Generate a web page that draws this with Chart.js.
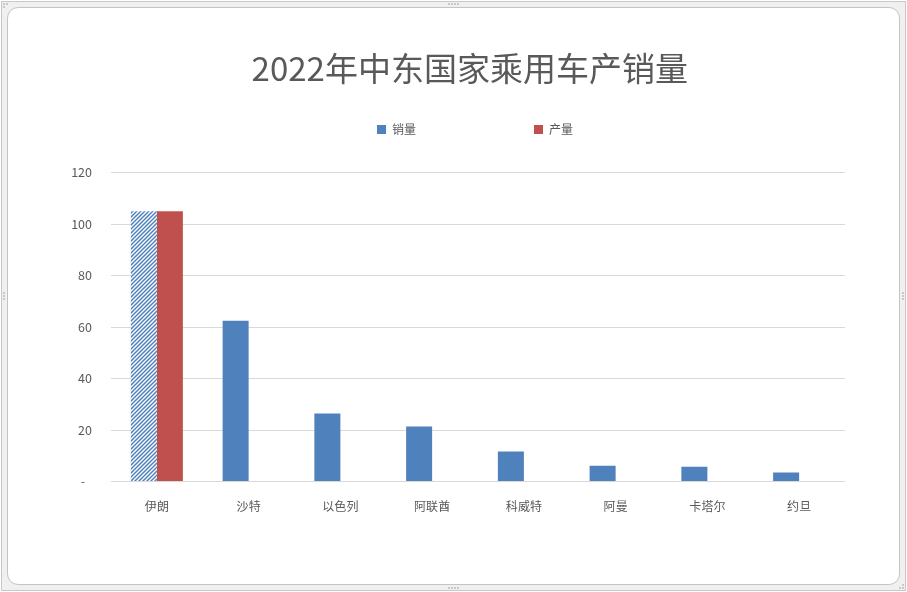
<!DOCTYPE html>
<html>
<head>
<meta charset="utf-8">
<script src="https://cdn.jsdelivr.net/npm/chart.js@4.4.0/dist/chart.umd.min.js"></script>
<style>
  html, body { margin: 0; padding: 0; background: #ffffff; }
  body { width: 907px; height: 592px; position: relative; overflow: hidden; }
  #outer { position: absolute; left: 1px; top: 1px; width: 903px; height: 588px; border: 1px solid #c8c8c8; background: #f0f0f0; }
  #inner { position: absolute; left: 7px; top: 7px; width: 891px; height: 576px; border: 1px solid #c4c4c4; border-radius: 11px; background: #ffffff; }
  .h { position: absolute; width: 2px; height: 2px; background: #c8c8c8; }
  #chartWrap { position: absolute; left: 0; top: 0; width: 907px; height: 592px; }
</style>
</head>
<body>
<div id="outer"></div>
<div id="inner"></div>
<div class="h" style="left:448px;top:3px"></div><div class="h" style="left:451px;top:3px"></div><div class="h" style="left:454px;top:3px"></div><div class="h" style="left:457px;top:3px"></div>
<div class="h" style="left:448px;top:587px"></div><div class="h" style="left:451px;top:587px"></div><div class="h" style="left:454px;top:587px"></div><div class="h" style="left:457px;top:587px"></div>
<div class="h" style="left:3px;top:292px"></div><div class="h" style="left:3px;top:295px"></div><div class="h" style="left:3px;top:298px"></div>
<div class="h" style="left:902px;top:292px"></div><div class="h" style="left:902px;top:295px"></div><div class="h" style="left:902px;top:298px"></div>
<div class="h" style="left:3px;top:3px"></div><div class="h" style="left:6px;top:3px"></div><div class="h" style="left:3px;top:6px"></div>
<div class="h" style="left:902px;top:587px"></div><div class="h" style="left:899px;top:587px"></div><div class="h" style="left:902px;top:584px"></div>
<div id="chartWrap"><canvas id="c" width="907" height="592"></canvas></div>
<script>
const categories = ['伊朗', '沙特', '以色列', '阿联酋', '科威特', '阿曼', '卡塔尔', '约旦'];
const salesValues = [105, 62.5, 26.4, 21.4, 11.7, 6.2, 5.8, 3.5];
const productionValues = [105, null, null, null, null, null, null, null];
const seriesNames = ['销量', '产量'];
const yTickValues = [0, 20, 40, 60, 80, 100, 120];
const yTickLabels = ['-\u2007', '20', '40', '60', '80', '100', '120'];
const titleText = '2022年中东国家乘用车产销量';

const BLUE = '#4f81bd';
const RED = '#c0504d';
const TEXT = '#595959';
const GRID = '#d9d9d9';

function makeHatch() {
  const t = document.createElement('canvas');
  t.width = 8; t.height = 8;
  const g = t.getContext('2d');
  g.fillStyle = '#ffffff';
  g.fillRect(0, 0, 8, 8);
  g.strokeStyle = BLUE;
  g.lineWidth = 1.5;
  for (let c = -8; c <= 24; c += 4) {
    g.beginPath();
    g.moveTo(c + 2, -2);
    g.lineTo(c - 10, 10);
    g.stroke();
  }
  return document.getElementById('c').getContext('2d').createPattern(t, 'repeat');
}
const hatch = makeHatch();

const legendSpacer = {
  id: 'legendSpacer',
  beforeInit(chart) {
    const origFit = chart.legend.fit;
    chart.legend.fit = function () {
      origFit.bind(chart.legend)();
      this.height += 27;
    };
  }
};

const FONT = '"Noto Sans CJK SC", "Noto Sans", sans-serif';

new Chart(document.getElementById('c'), {
  type: 'bar',
  data: {
    labels: categories,
    datasets: [
      {
        label: seriesNames[0],
        data: salesValues,
        backgroundColor: (ctx) => ctx.dataIndex === 0 ? hatch : BLUE,
        borderWidth: 0
      },
      {
        label: seriesNames[1],
        data: productionValues,
        backgroundColor: RED,
        borderWidth: 0
      }
    ]
  },
  plugins: [legendSpacer],
  options: {
    responsive: false,
    animation: false,
    devicePixelRatio: 1,
    layout: { padding: { top: 49, left: 70, right: 62, bottom: 60 } },
    datasets: { bar: { categoryPercentage: 0.567, barPercentage: 1.0 } },
    plugins: {
      tooltip: { enabled: false },
      title: {
        display: true,
        fullSize: false,
        text: titleText + '\u2002',
        color: TEXT,
        font: { family: FONT, size: 33, weight: 'normal', lineHeight: 1.2 },
        padding: { top: 0, bottom: 25 }
      },
      legend: {
        display: true,
        fullSize: false,
        position: 'top',
        labels: {
          color: TEXT,
          font: { family: FONT, size: 12 },
          boxWidth: 9,
          boxHeight: 9,
          padding: 10,
          generateLabels: () => [
            { text: seriesNames[0] + '\u3000'.repeat(9), fillStyle: BLUE, strokeStyle: BLUE, lineWidth: 0, hidden: false, datasetIndex: 0, fontColor: TEXT },
            { text: seriesNames[1] + '\u2002', fillStyle: RED, strokeStyle: RED, lineWidth: 0, hidden: false, datasetIndex: 1, fontColor: TEXT }
          ]
        }
      }
    },
    scales: {
      x: {
        grid: { display: false, drawTicks: false },
        border: { display: false },
        ticks: { color: TEXT, font: { family: FONT, size: 12 }, padding: 18, maxRotation: 0 }
      },
      y: {
        min: 0,
        max: 120,
        afterFit: (scale) => { scale.width = 41; },
        afterBuildTicks: (scale) => { scale.ticks = yTickValues.map(v => ({ value: v })); },
        grid: { color: GRID, lineWidth: 1, drawTicks: false },
        border: { display: false },
        ticks: {
          color: TEXT,
          font: { family: FONT, size: 12.5 },
          padding: 19,
          callback: (value) => yTickLabels[yTickValues.indexOf(value)]
        }
      }
    }
  }
});
</script>
</body>
</html>
